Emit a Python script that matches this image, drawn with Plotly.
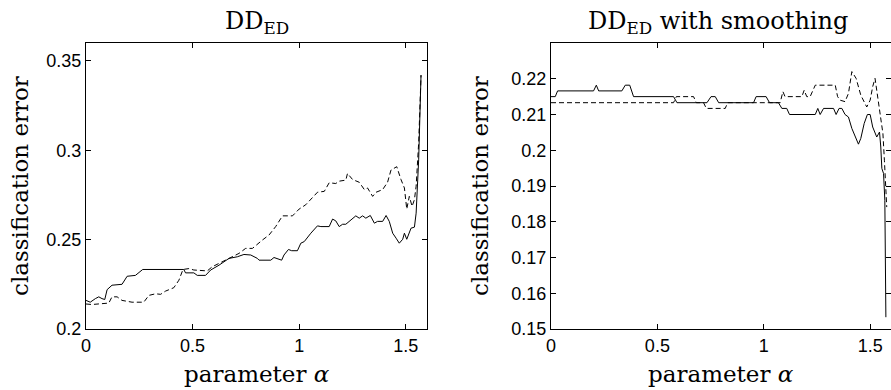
import plotly.graph_objects as go

# ---- data: left panel (DD_ED) ----
left_solid_x = [0, 0.02, 0.044, 0.06, 0.075, 0.088, 0.099, 0.122, 0.169, 0.193, 0.232, 0.255, 0.266,
                0.459, 0.467, 0.506, 0.522, 0.561, 0.585, 0.624, 0.671, 0.71, 0.741, 0.773, 0.804,
                0.812, 0.867, 0.882, 0.898, 0.918, 0.929, 0.95, 0.965, 0.992, 1.008, 1.024, 1.055,
                1.086, 1.102, 1.141, 1.157, 1.172, 1.188, 1.204, 1.219, 1.243, 1.266, 1.282, 1.298,
                1.313, 1.334, 1.353, 1.368, 1.392, 1.408, 1.423, 1.439, 1.455, 1.47, 1.486, 1.494,
                1.505, 1.525, 1.541, 1.549, 1.561, 1.572]
left_solid_y = [0.216, 0.215, 0.217, 0.218, 0.217, 0.2165, 0.222, 0.2245, 0.225, 0.2295, 0.230, 0.232,
                0.2333, 0.2333, 0.2314, 0.2314, 0.230, 0.230, 0.233, 0.2357, 0.2395, 0.2404, 0.2417,
                0.2414, 0.2395, 0.2385, 0.2385, 0.240, 0.2395, 0.2385, 0.2414, 0.2445, 0.2438, 0.2438,
                0.248, 0.2489, 0.2536, 0.2577, 0.2573, 0.2573, 0.2615, 0.2605, 0.2573, 0.2586, 0.2586,
                0.261, 0.2633, 0.262, 0.2633, 0.262, 0.2635, 0.2592, 0.2602, 0.2602, 0.2635, 0.2602,
                0.2536, 0.2508, 0.248, 0.2502, 0.2536, 0.2502, 0.2564, 0.257, 0.2648, 0.295, 0.342]

left_dash_x = [0, 0.028, 0.107, 0.122, 0.146, 0.169, 0.216, 0.271, 0.295, 0.326, 0.35, 0.373, 0.412,
               0.436, 0.455, 0.483, 0.506, 0.569, 0.592, 0.624, 0.671, 0.718, 0.749, 0.781, 0.828,
               0.859, 0.89, 0.922, 0.969, 1.0, 1.031, 1.063, 1.086, 1.118, 1.141, 1.172, 1.188,
               1.219, 1.227, 1.251, 1.282, 1.306, 1.321, 1.345, 1.361, 1.392, 1.415, 1.431, 1.458,
               1.478, 1.494, 1.505, 1.517, 1.53, 1.541, 1.549, 1.561, 1.572]
left_dash_y = [0.214, 0.2137, 0.2145, 0.218, 0.218, 0.216, 0.215, 0.215, 0.2188, 0.2197, 0.2194, 0.2212,
               0.2231, 0.2273, 0.2333, 0.2338, 0.233, 0.2325, 0.2348, 0.2367, 0.2395, 0.2423, 0.2451,
               0.2451, 0.2498, 0.2526, 0.2573, 0.2633, 0.2633, 0.2671, 0.2695, 0.2739, 0.2765, 0.277,
               0.2818, 0.2814, 0.2827, 0.2833, 0.287, 0.2836, 0.2821, 0.278, 0.2789, 0.2742, 0.2765,
               0.278, 0.2821, 0.2889, 0.2908, 0.2836, 0.2789, 0.2671, 0.2742, 0.2686, 0.2724, 0.2799,
               0.3043, 0.342]

# ---- data: right panel (DD_ED with smoothing) ----
right_solid_x = [0, 0.02, 0.031, 0.2, 0.213, 0.224, 0.333, 0.349, 0.37, 0.388, 0.576, 0.592, 0.733,
                 0.752, 0.772, 0.788, 0.952, 0.964, 1.011, 1.027, 1.069, 1.085, 1.108, 1.121, 1.242,
                 1.254, 1.265, 1.281, 1.328, 1.34, 1.354, 1.367, 1.382, 1.398, 1.414, 1.429, 1.445,
                 1.456, 1.472, 1.487, 1.5, 1.512, 1.531, 1.544, 1.55, 1.555, 1.563, 1.569, 1.574]
right_solid_y = [0.215, 0.215, 0.2166, 0.2166, 0.2182, 0.2166, 0.2166, 0.2182, 0.2182, 0.215, 0.215,
                 0.2133, 0.2133, 0.215, 0.215, 0.2133, 0.2133, 0.215, 0.215, 0.2133, 0.2133, 0.2117,
                 0.2117, 0.21, 0.21, 0.2117, 0.21, 0.2117, 0.2117, 0.21, 0.2117, 0.2117, 0.21, 0.2093,
                 0.2061, 0.2037, 0.2017, 0.2033, 0.2075, 0.21, 0.21, 0.2065, 0.2037, 0.2051, 0.2009,
                 0.1949, 0.1935, 0.186, 0.1533]

right_dash_x = [0, 0.576, 0.589, 0.67, 0.683, 0.717, 0.73, 0.819, 0.83, 1.077, 1.09, 1.1, 1.179, 1.19,
                1.202, 1.218, 1.242, 1.336, 1.347, 1.359, 1.382, 1.398, 1.414, 1.434, 1.456, 1.484,
                1.5, 1.512, 1.523, 1.534, 1.547, 1.56, 1.567, 1.574, 1.578]
right_dash_y = [0.2133, 0.2133, 0.215, 0.215, 0.2133, 0.2133, 0.2117, 0.2117, 0.2133, 0.2133, 0.2164,
                0.215, 0.215, 0.2168, 0.215, 0.215, 0.2182, 0.2182, 0.215, 0.214, 0.2136, 0.2159,
                0.222, 0.2201, 0.2154, 0.2121, 0.214, 0.2178, 0.2201, 0.2159, 0.2098, 0.2047, 0.1972,
                0.1897, 0.1841]

# ---- ticks ----
x_tickvals = [0, 0.5, 1, 1.5]
x_ticktext = ["0", "0.5", "1", "1.5"]
left_y_tickvals = [0.2, 0.25, 0.3, 0.35]
left_y_ticktext = ["0.2", "0.25", "0.3", "0.35"]
right_y_tickvals = [0.15, 0.16, 0.17, 0.18, 0.19, 0.2, 0.21, 0.22]
right_y_ticktext = ["0.15", "0.16", "0.17", "0.18", "0.19", "0.2", "0.21", "0.22"]

titles = ["DD<sub>ED</sub>", "DD<sub>ED</sub> with smoothing"]
x_title = "parameter <i>α</i>"
y_title = "classification error"

W, H = 891, 390
serif = "DejaVu Serif, serif"
sans = "Liberation Sans, Arial, sans-serif"

fig = go.Figure()
dash_style = "5px,3px"
fig.add_trace(go.Scatter(x=left_solid_x, y=left_solid_y, mode="lines",
                         line=dict(color="black", width=1), xaxis="x", yaxis="y"))
fig.add_trace(go.Scatter(x=left_dash_x, y=left_dash_y, mode="lines",
                         line=dict(color="black", width=1, dash=dash_style), xaxis="x", yaxis="y"))
fig.add_trace(go.Scatter(x=right_solid_x, y=right_solid_y, mode="lines",
                         line=dict(color="black", width=1), xaxis="x2", yaxis="y2"))
fig.add_trace(go.Scatter(x=right_dash_x, y=right_dash_y, mode="lines",
                         line=dict(color="black", width=1, dash=dash_style), xaxis="x2", yaxis="y2"))

def px_x(p):
    return p / W

def px_y(p):
    return 1 - p / H

axis_common = dict(showline=True, linecolor="black", linewidth=1, mirror="ticks",
                   ticks="inside", ticklen=5, tickcolor="black", showgrid=False,
                   zeroline=False, automargin=False,
                   tickfont=dict(family=sans, size=18, color="black"))

top, bottom = 43, 329
fig.update_layout(
    width=W, height=H,
    margin=dict(l=0, r=0, t=0, b=0, autoexpand=False),
    paper_bgcolor="white", plot_bgcolor="white",
    showlegend=False,
    xaxis=dict(domain=[px_x(86), px_x(427)], range=[0, 1.6], anchor="y",
               tickvals=x_tickvals, ticktext=x_ticktext, **axis_common),
    yaxis=dict(domain=[px_y(bottom), px_y(top)], range=[0.2, 0.36], anchor="x",
               tickvals=left_y_tickvals, ticktext=left_y_ticktext, **axis_common),
    xaxis2=dict(domain=[px_x(551), 1.0], range=[0, 1.598], anchor="y2",
                tickvals=x_tickvals, ticktext=x_ticktext, **axis_common),
    yaxis2=dict(domain=[px_y(bottom), px_y(top)], range=[0.15, 0.23], anchor="x2",
                tickvals=right_y_tickvals, ticktext=right_y_ticktext, **axis_common),
)

ann = []
title_font = dict(family=serif, size=23, color="black")
ann.append(dict(text=titles[0], x=px_x(256.5), y=px_y(22), xref="paper", yref="paper",
                showarrow=False, font=dict(family=serif, size=24, color="black"),
                xanchor="center", yanchor="middle"))
ann.append(dict(text=titles[1], x=px_x(718), y=px_y(22), xref="paper", yref="paper",
                showarrow=False, font=dict(family=serif, size=24, color="black"),
                xanchor="center", yanchor="middle"))
for cx in (256.5, 721):
    ann.append(dict(text=x_title, x=px_x(cx), y=px_y(374), xref="paper", yref="paper",
                    showarrow=False, font=title_font, xanchor="center", yanchor="middle"))
for cx in (20, 480):
    ann.append(dict(text=y_title, x=px_x(cx), y=px_y(186), xref="paper", yref="paper",
                    showarrow=False, font=title_font, textangle=-90,
                    xanchor="center", yanchor="middle"))
fig.update_layout(annotations=ann)

fig.write_html("out.html", config={"displayModeBar": False},
               post_script="document.body.style.margin='0px';")
